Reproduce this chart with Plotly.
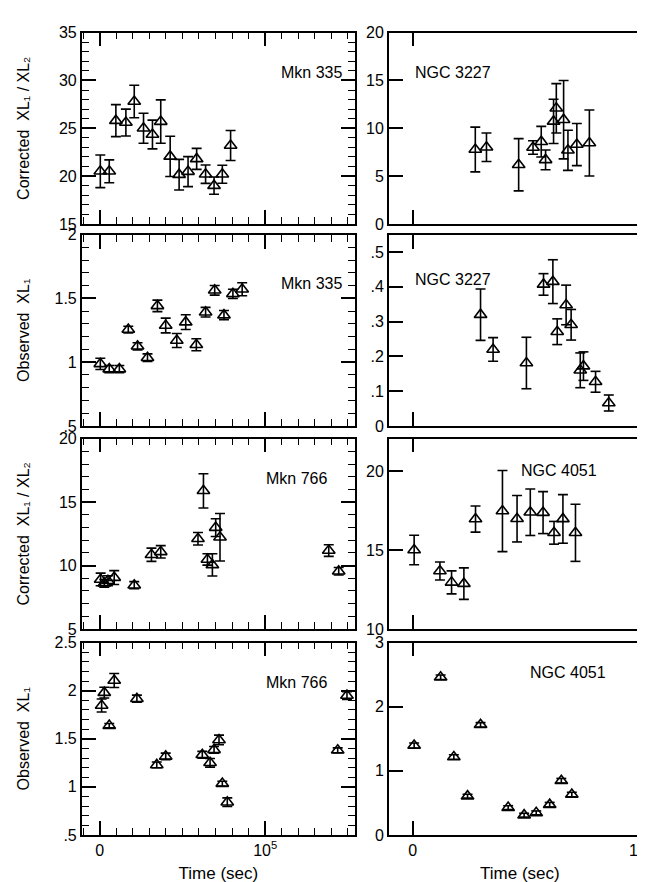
import plotly.graph_objects as go

W, H = 645, 882

# ---------------- data ----------------
m335_corr_t = [400, 5800, 9800, 15850, 20900, 26500, 31900, 36900, 42600, 48000, 53400, 58600, 64000, 69100, 74100, 79100]
m335_corr_v = [20.5, 20.5, 25.8, 25.6, 27.8, 25.0, 24.35, 25.7, 22.06, 20.15, 20.47, 21.8, 20.2, 19.0, 20.2, 23.2]
m335_corr_e = [1.7, 1.2, 1.67, 1.4, 1.7, 1.57, 1.5, 2.27, 2.1, 1.6, 1.57, 1.1, 0.96, 0.9, 0.94, 1.57]

m335_obs_t = [400, 5800, 11900, 17300, 22900, 28900, 34900, 39900, 46600, 52000, 58400, 64000, 69500, 75100, 80500, 86100]
m335_obs_v = [0.987, 0.946, 0.946, 1.256, 1.125, 1.035, 1.442, 1.288, 1.17, 1.314, 1.137, 1.392, 1.564, 1.369, 1.536, 1.572]
m335_obs_e = [0.044, 0.028, 0.028, 0.026, 0.028, 0.03, 0.045, 0.058, 0.055, 0.058, 0.047, 0.038, 0.038, 0.036, 0.036, 0.051]

m766_corr_t = [600, 2800, 5000, 8800, 20900, 31300, 36900, 59400, 62700, 65100, 68100, 70100, 72700, 138400, 144400]
m766_corr_v = [8.9, 8.6, 8.8, 9.05, 8.45, 10.85, 11.08, 12.11, 15.89, 10.48, 10.05, 12.99, 12.23, 11.18, 9.55]
m766_corr_e = [0.5, 0.3, 0.4, 0.55, 0.28, 0.52, 0.49, 0.49, 1.35, 0.45, 0.88, 0.7, 1.87, 0.46, 0.3]

m766_obs_t = [1200, 2800, 5800, 8800, 22500, 34500, 39900, 62000, 66700, 69100, 72100, 74100, 77100, 143800, 149400]
m766_obs_v = [1.846, 1.98, 1.637, 2.107, 1.917, 1.228, 1.317, 1.334, 1.25, 1.385, 1.488, 1.034, 0.84, 1.38, 1.95]
m766_obs_e = [0.068, 0.056, 0.022, 0.073, 0.037, 0.03, 0.034, 0.035, 0.045, 0.035, 0.05, 0.025, 0.045, 0.025, 0.04]

n3227_corr_t = [27400, 32300, 46400, 52700, 56300, 58200, 61700, 62900, 66100, 68000, 71900, 77400]
n3227_corr_v = [7.78, 8.02, 6.19, 7.99, 8.6, 6.7, 10.72, 12.09, 10.9, 7.7, 8.3, 8.46]
n3227_corr_e = [2.34, 1.49, 2.73, 0.7, 1.6, 1.03, 2.31, 2.58, 4.1, 2.1, 2.2, 3.45]

n3227_obs_t = [29700, 35200, 49800, 57300, 61400, 63300, 67200, 69400, 73400, 74800, 80100, 85900]
n3227_obs_v = [0.32, 0.22, 0.181, 0.407, 0.415, 0.271, 0.348, 0.291, 0.160, 0.172, 0.127, 0.066]
n3227_obs_e = [0.074, 0.034, 0.074, 0.031, 0.063, 0.037, 0.057, 0.044, 0.05, 0.041, 0.03, 0.023]

n4051_corr_t = [600, 11900, 17000, 22400, 27500, 39300, 45700, 51500, 57100, 61900, 65800, 71300]
n4051_corr_v = [15.0, 13.67, 12.95, 12.87, 16.96, 17.47, 16.98, 17.39, 17.37, 16.09, 16.97, 16.09]
n4051_corr_e = [0.93, 0.57, 0.73, 1.0, 0.83, 2.57, 1.47, 1.47, 1.33, 0.72, 1.54, 1.81]

n4051_obs_t = [600, 12200, 18000, 24000, 29700, 41800, 48800, 54100, 60000, 65100, 69700]
n4051_obs_v = [1.395, 2.46, 1.215, 0.605, 1.718, 0.426, 0.308, 0.344, 0.472, 0.846, 0.63]
n4051_obs_e = [0.04, 0.035, 0.035, 0.03, 0.035, 0.03, 0.03, 0.03, 0.035, 0.035, 0.035]

x_tickvals = [0, 100000]
x_ticktext = ["0", "10<sup>5</sup>"]
x_minor_step = 10000

panels = [
    (m335_corr_t, m335_corr_v, m335_corr_e, "Mkn 335", [15, 35], [15, 20, 25, 30, 35], ["15", "20", "25", "30", "35"], 1,
     "Corrected  XL\u2081 / XL\u2082"),
    (n3227_corr_t, n3227_corr_v, n3227_corr_e, "NGC 3227", [0, 20], [0, 5, 10, 15, 20], ["0", "5", "10", "15", "20"], 1, None),
    (m335_obs_t, m335_obs_v, m335_obs_e, "Mkn 335", [0.5, 2], [0.5, 1, 1.5, 2], [".5", "1", "1.5", "2"], 0.1,
     "Observed  XL\u2081"),
    (n3227_obs_t, n3227_obs_v, n3227_obs_e, "NGC 3227", [0, 0.55], [0, 0.1, 0.2, 0.3, 0.4, 0.5], ["0", ".1", ".2", ".3", ".4", ".5"], 0.05, None),
    (m766_corr_t, m766_corr_v, m766_corr_e, "Mkn 766", [5, 20], [5, 10, 15, 20], ["5", "10", "15", "20"], 1,
     "Corrected  XL\u2081 / XL\u2082"),
    (n4051_corr_t, n4051_corr_v, n4051_corr_e, "NGC 4051", [10, 22.05], [10, 15, 20], ["10", "15", "20"], 1, None),
    (m766_obs_t, m766_obs_v, m766_obs_e, "Mkn 766", [0.5, 2.5], [0.5, 1, 1.5, 2, 2.5], [".5", "1", "1.5", "2", "2.5"], 0.1,
     "Observed  XL\u2081"),
    (n4051_obs_t, n4051_obs_v, n4051_obs_e, "NGC 4051", [0, 3], [0, 1, 2, 3], ["0", "1", "2", "3"], 0.5, None),
]

# ---------------- geometry / style ----------------
col_px = [(74, 348), (382, 645)]
row_px = [(17, 212), (223, 418), (431, 625), (639, 835)]
x_ranges = [[-10800, 154200], [-10500, 104400]]
label_center = [(304, 47), (487, 47), (304, 262), (487, 258), (289, 472), (593, 463), (289, 690), (602, 680)]
ytitle_standoff = [25, 21, 25, 21]
use_minor = [True, False]  # per column
CAP_PX = 5

FONT = "Liberation Sans, Arial, Helvetica, sans-serif"


def error_segments(t, v, e, cap):
    """Vertical error bars with caps, as line segments built from the data."""
    xs, ys = [], []
    for ti, vi, ei in zip(t, v, e):
        lo, hi = vi - ei, vi + ei
        xs += [ti, ti, None, ti - cap, ti + cap, None, ti - cap, ti + cap, None]
        ys += [lo, hi, None, lo, lo, None, hi, hi, None]
    return xs, ys


fig = go.Figure()
lay = dict(width=W, height=H, margin=dict(l=0, r=0, t=0, b=0), paper_bgcolor="white",
           plot_bgcolor="white", showlegend=False, font=dict(family=FONT, size=16, color="black"))
ann = []
base = dict(showline=True, linecolor="black", linewidth=1.6, mirror="allticks",
            ticks="inside", ticklen=14, tickwidth=1.5, tickcolor="black",
            showgrid=False, zeroline=False,
            tickfont=dict(family=FONT, size=16, color="black"),
            tickmode="array")

for i, (t, v, e, lab, yr, tv, tt, mstep, ytitle) in enumerate(panels):
    r, c = divmod(i, 2)
    n = i + 1
    xa = "x" if n == 1 else f"x{n}"
    ya = "y" if n == 1 else f"y{n}"
    xr = x_ranges[c]
    cap = CAP_PX * (xr[1] - xr[0]) / (col_px[c][1] - col_px[c][0])
    ex, ey = error_segments(t, v, e, cap)
    fig.add_trace(go.Scatter(x=ex, y=ey, xaxis=xa, yaxis=ya, mode="lines",
                             line=dict(color="black", width=1.6), hoverinfo="skip"))
    fig.add_trace(go.Scatter(
        x=t, y=v, xaxis=xa, yaxis=ya, mode="markers",
        marker=dict(symbol="triangle-up-open", size=11, color="black", line=dict(width=1.6, color="black")),
        cliponaxis=False))

    xd = dict(base, domain=[col_px[c][0] / W, col_px[c][1] / W], anchor=ya, range=xr,
              tickvals=x_tickvals, ticktext=(x_ticktext if r == 3 else ["", ""]))
    yd = dict(base, domain=[1 - row_px[r][1] / H, 1 - row_px[r][0] / H], anchor=xa, range=yr,
              tickvals=tv, ticktext=tt)
    if use_minor[c]:
        xd["minor"] = dict(ticks="inside", ticklen=7, tickwidth=1.3, tickcolor="black",
                           tickmode="linear", tick0=0, dtick=x_minor_step)
        yd["minor"] = dict(ticks="inside", ticklen=7, tickwidth=1.3, tickcolor="black",
                           tickmode="linear", tick0=yr[0], dtick=mstep)
    if r == 3:
        xd["title"] = dict(text="Time (sec)", font=dict(family=FONT, size=17, color="black"), standoff=9)
    if ytitle:
        yd["title"] = dict(text=ytitle, font=dict(family=FONT, size=16, color="black"),
                           standoff=ytitle_standoff[r])
    lay["xaxis" if n == 1 else f"xaxis{n}"] = xd
    lay["yaxis" if n == 1 else f"yaxis{n}"] = yd

    lx, ly = label_center[i]
    ann.append(dict(text=lab, xref="paper", yref="paper", x=lx / W, y=1 - ly / H, showarrow=False))

lay["annotations"] = ann
fig.update_layout(**lay)
fig.write_html("out.html")
